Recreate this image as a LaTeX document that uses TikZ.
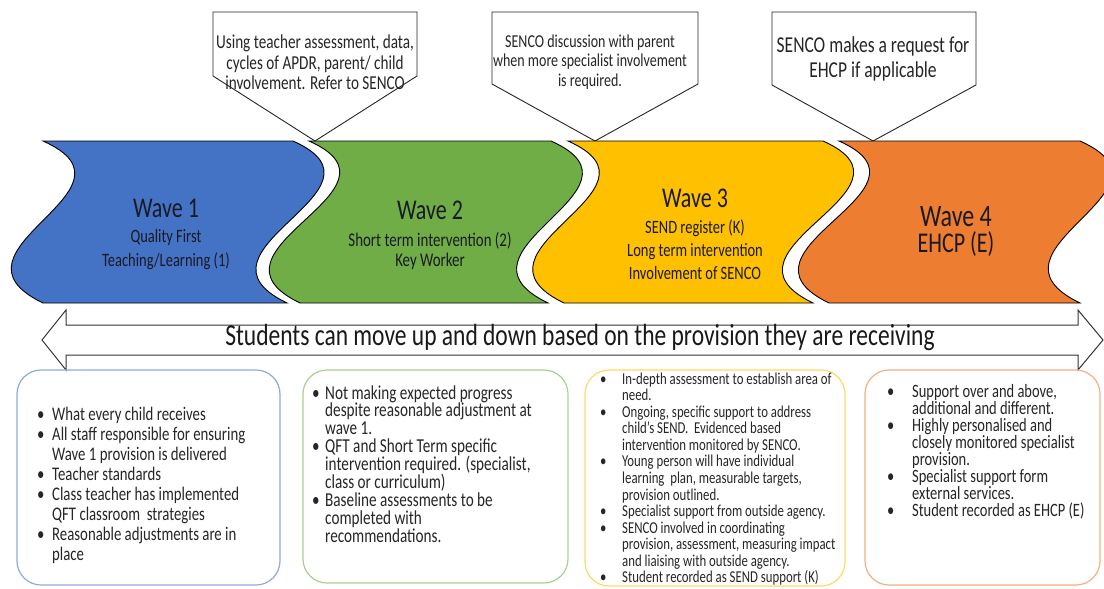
\documentclass[tikz,border=0pt]{standalone}
\usepackage{fontspec}
\setmainfont{Carlito}
\usepackage{graphicx}
\definecolor{blueF}{HTML}{4472C4}
\definecolor{greenF}{HTML}{70AD47}
\definecolor{yellowF}{HTML}{FFC000}
\definecolor{orangeF}{HTML}{ED7D31}
\definecolor{boxA}{HTML}{8FAADC}
\definecolor{boxB}{HTML}{A9D18E}
\definecolor{boxC}{HTML}{FFD966}
\definecolor{boxD}{HTML}{F4B183}
\definecolor{txtcol}{HTML}{262626}
\definecolor{wavetxt}{HTML}{1A1A24}
\newcommand{\VS}[1]{\scalebox{1}[1.3]{#1}}
\newcommand{\CT}[3]{\VS{\fontsize{#1}{#2}\selectfont\begin{tabular}{@{}c@{}}#3\end{tabular}}}
\newcommand{\BL}[4]{\VS{\parbox[t]{#1}{\fontsize{#2}{#3}\selectfont\raggedright #4}}}
\newcommand{\bi}[2]{\par\noindent\hangindent=#1\hangafter=1\makebox[#1][l]{\textbullet}#2\par}
\newcommand{\WL}[3]{{\fontsize{#1}{#2}\selectfont #3\par}}
\newcommand{\WB}[2]{\VS{\parbox[t]{#1}{\centering #2}}}
\tikzset{
  waveshape/.style={draw=black, line width=0.9pt},
  callout/.style={draw=black!85, line width=0.9pt, fill=white},
  txt/.style={inner sep=0pt, text=txtcol},
  wtxt/.style={inner sep=0pt, anchor=base, text=wavetxt},
  blist/.style={inner sep=0pt, anchor=base west, text=txtcol},
  bbox/.style={rounded corners=24pt, line width=1.2pt},
  dblarrow/.style={draw=black!80, line width=1pt, fill=white}
}
\begin{document}
\begin{tikzpicture}[x=1pt,y=-1pt]
\useasboundingbox[fill=white] (0,0) rectangle (1104,589);

% callouts
\draw[callout] (213,12) -- (417,12) -- (417,76) -- (315,141) -- (213,76) -- cycle;
\draw[callout] (492,12) -- (698,12) -- (698,84) -- (595,141) -- (492,84) -- cycle;
\draw[callout] (772,12) -- (976,12) -- (976,85) -- (873,141) -- (772,85) -- cycle;
\node[txt] (c1) at (315,65) {\CT{15.2}{15.4}{Using teacher assessment, data,\\cycles of APDR, parent/ child\\involvement. Refer to SENCO}};
\node[txt] (c2) at (590,63) {\CT{14}{15}{SENCO discussion with parent\\when more specialist involvement\\is required.}};
\node[txt] (c3) at (873,60) {\CT{17.5}{19.2}{SENCO makes a request for\\EHCP if applicable}};

% waves
\path[waveshape, fill=blueF] (43,141) -- (293,141) .. controls (403,190) and (177,250) .. (287,303) -- (43,303) .. controls (-67,250) and (153,190) .. (43,141) -- cycle;
\path[waveshape, fill=greenF] (309,141) -- (551,141) .. controls (661,190) and (438,250) .. (548,303) -- (300,303) .. controls (190,250) and (419,190) .. (309,141) -- cycle;
\path[waveshape, fill=yellowF] (568,141) -- (823,141) .. controls (933,190) and (703,250) .. (813,303) -- (564,303) .. controls (454,250) and (678,190) .. (568,141) -- cycle;
\path[waveshape, fill=orangeF] (839,141) -- (1080,141) .. controls (1190,190) and (970,250) .. (1080,303) -- (829,303) .. controls (719,250) and (949,190) .. (839,141) -- cycle;

\node[wtxt] (w1) at (166,217) {\WB{160pt}{\WL{22}{26}{Wave 1}\WL{14.5}{19.4}{Quality First}\WL{14.5}{18.5}{Teaching/Learning (1)}}};
\node[wtxt] (w2) at (430,219) {\WB{180pt}{\WL{22}{26}{Wave 2}\WL{14.9}{20.9}{Short term intervention (2)}\WL{14.9}{15.4}{Key Worker}}};
\node[wtxt] (w3) at (695,207) {\WB{170pt}{\WL{22}{26}{Wave 3}\WL{14.5}{20.2}{SEND register (K)}\WL{14.5}{17.7}{Long term intervention}\WL{14.5}{17.7}{Involvement of SENCO}}};
\node[wtxt] (w4) at (956,226) {\WB{150pt}{\WL{24}{28}{Wave 4}\WL{22}{20.3}{EHCP (E)}}};

% double arrow
\path[dblarrow] (42,340) -- (66,310) -- (66,325) -- (1078,325) -- (1078,310) -- (1103,340) -- (1078,370) -- (1078,355) -- (66,355) -- (66,370) -- cycle;
\node[txt, text=black!90] (arr) at (580,338) {\VS{\fontsize{23.5}{28}\selectfont Students can move up and down based on the provision they are receiving}};

% bottom boxes
\draw[bbox, draw=boxA] (17,370) rectangle (280,585);
\draw[bbox, draw=boxB] (303,370) rectangle (568,583);
\draw[bbox, draw=boxC] (585,370) rectangle (845,586);
\draw[bbox, draw=boxD] (865,370) rectangle (1100,585);

\node[blist] (la) at (37,420) {\BL{240pt}{14.8}{15.4}{%
\bi{15pt}{What every child receives}
\bi{15pt}{All staff responsible for ensuring\newline Wave 1 provision is delivered}
\bi{15pt}{Teacher standards}
\bi{15pt}{Class teacher has implemented\newline QFT classroom\ \ strategies}
\bi{15pt}{Reasonable adjustments are in\newline place}}};
\node[blist] (lb) at (312,399) {\BL{250pt}{15.2}{13.8}{%
\bi{13pt}{Not making expected progress\newline despite reasonable adjustment at\newline wave 1.}
\bi{13pt}{QFT and Short Term specific\newline intervention required. (specialist,\newline class or curriculum)}
\bi{13pt}{Baseline assessments to be\newline completed with\newline recommendations.}}};
\node[blist] (lc) at (600,384) {\BL{250pt}{12.8}{12.75}{%
\bi{22pt}{In-depth assessment to establish area of\newline need.}
\bi{22pt}{Ongoing, specific support to address\newline child’s SEND.\ \ Evidenced based\newline intervention monitored by SENCO.}
\bi{22pt}{Young person will have individual\newline learning\ \ plan, measurable targets,\newline provision outlined.}
\bi{22pt}{Specialist support from outside agency.}
\bi{22pt}{SENCO involved in coordinating\newline provision, assessment, measuring impact\newline and liaising with outside agency.}
\bi{22pt}{Student recorded as SEND support (K)}}};
\node[blist] (ld) at (887,397) {\BL{210pt}{14.5}{13.1}{%
\bi{25pt}{Support over and above,\newline additional and different.}
\bi{25pt}{Highly personalised and\newline closely monitored specialist\newline provision.}
\bi{25pt}{Specialist support form\newline external services.}
\bi{25pt}{Student recorded as EHCP (E)}}};
\end{tikzpicture}
\end{document}
